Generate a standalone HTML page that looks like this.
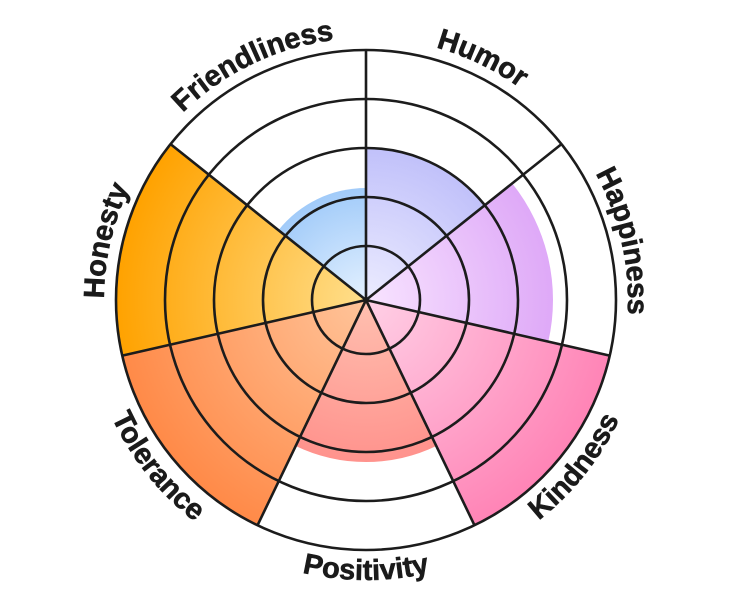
<!DOCTYPE html>
<html><head><meta charset="utf-8"><style>html,body{margin:0;padding:0;background:#fff}svg{display:block}</style></head>
<body>
<svg width="732" height="600" viewBox="0 0 732 600" xmlns="http://www.w3.org/2000/svg">
<defs>
<radialGradient id="gH" cx="366" cy="300" r="250" gradientUnits="userSpaceOnUse"><stop offset="0" stop-color="#ececff"/><stop offset="1" stop-color="#a5a5f7"/></radialGradient>
<radialGradient id="gP" cx="366" cy="300" r="250" gradientUnits="userSpaceOnUse"><stop offset="0" stop-color="#f8e4ff"/><stop offset="1" stop-color="#d695f5"/></radialGradient>
<radialGradient id="gK" cx="366" cy="300" r="250" gradientUnits="userSpaceOnUse"><stop offset="0" stop-color="#ffd0e6"/><stop offset="1" stop-color="#ff84b6"/></radialGradient>
<radialGradient id="gO" cx="366" cy="300" r="250" gradientUnits="userSpaceOnUse"><stop offset="0" stop-color="#ffc0b0"/><stop offset="1" stop-color="#ff7a7a"/></radialGradient>
<radialGradient id="gT" cx="366" cy="300" r="250" gradientUnits="userSpaceOnUse"><stop offset="0" stop-color="#ffc49a"/><stop offset="1" stop-color="#ff8a48"/></radialGradient>
<radialGradient id="gN" cx="366" cy="300" r="250" gradientUnits="userSpaceOnUse"><stop offset="0" stop-color="#ffdf8c"/><stop offset="1" stop-color="#ffa200"/></radialGradient>
<radialGradient id="gF" cx="366" cy="300" r="250" gradientUnits="userSpaceOnUse"><stop offset="0" stop-color="#e4f1ff"/><stop offset="1" stop-color="#4f9cf2"/></radialGradient>
<path id="top" d="M366,38 A262,262 0 0 1 366,562 A262,262 0 0 1 366,38"/>
<path id="bot" d="M366,20 A280,280 0 0 0 366,580 A280,280 0 0 0 366,20"/>
</defs>
<path d="M366,300 L366,149 A151,151 0 0 1 484.05,205.85 Z" fill="url(#gH)"/>
<path d="M366,300 L512.2,183.4 A187,187 0 0 1 548.3,341.6 Z" fill="url(#gP)"/>
<path d="M366,300 L609.7,355.6 A250,250 0 0 1 474.5,525.3 Z" fill="url(#gK)"/>
<path d="M366,300 L436.3,446 A162,162 0 0 1 295.7,446 Z" fill="url(#gO)"/>
<path d="M366,300 L257.5,525.3 A250,250 0 0 1 122.3,355.6 Z" fill="url(#gT)"/>
<path d="M366,300 L122.3,355.6 A250,250 0 0 1 170.55,144.1 Z" fill="url(#gN)"/>
<path d="M366,300 L278.4,230.2 A112,112 0 0 1 366,188 Z" fill="url(#gF)"/>
<g fill="none" stroke="#1c1c1c" stroke-width="2.6">
<circle cx="366" cy="300" r="54"/>
<circle cx="366" cy="300" r="103"/>
<circle cx="366" cy="300" r="152"/>
<circle cx="366" cy="300" r="201"/>
<circle cx="366" cy="300" r="250"/>
<path d="M366,300 L366,50 M366,300 L561.45,144.1 M366,300 L609.7,355.6 M366,300 L474.5,525.3 M366,300 L257.5,525.3 M366,300 L122.3,355.6 M366,300 L170.55,144.1"/>
</g>
<g font-family="Liberation Sans, sans-serif" font-weight="bold" font-size="29" fill="#1a1a1a" text-anchor="middle" stroke="#1a1a1a" stroke-width="0.6">
<text><textPath href="#top" startOffset="7.14%">Humor</textPath></text>
<text><textPath href="#top" startOffset="21.43%">Happiness</textPath></text>
<text><textPath href="#top" startOffset="78.57%">Honesty</textPath></text>
<text><textPath href="#top" startOffset="92.86%">Friendliness</textPath></text>
<text><textPath href="#bot" startOffset="50%">Positivity</textPath></text>
<text><textPath href="#bot" startOffset="64.29%">Kindness</textPath></text>
<text><textPath href="#bot" startOffset="35.71%">Tolerance</textPath></text>
</g>
</svg>
</body></html>
